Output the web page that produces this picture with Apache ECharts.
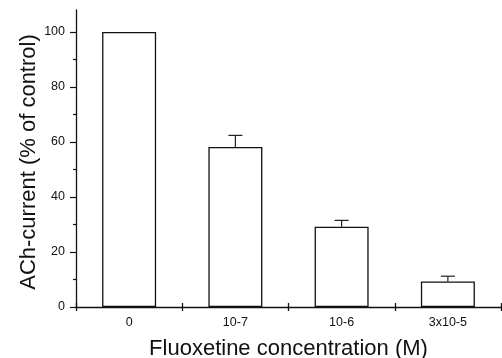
<!DOCTYPE html>
<html>
<head>
<meta charset="utf-8">
<script src="https://cdn.jsdelivr.net/npm/echarts@6/dist/echarts.min.js"></script>
<style>html,body{margin:0;padding:0;background:#fff}#c{width:502px;height:358px}</style>
</head>
<body>
<div id="c"></div>
<script>
const categories = ['0', '10-7', '10-6', '3x10-5'];
const values = [100, 58.2, 29.2, 9.3];
const errors = [0, 4.2, 2.3, 1.9];
const yMajorTicks = [0, 20, 40, 60, 80, 100];
const yMinorTicks = [10, 30, 50, 70, 90];
const yTitle = 'ACh-current (% of control)';
const xTitle = 'Fluoxetine concentration (M)';

const FONT = '"Liberation Sans", Arial, sans-serif';
const chart = echarts.init(document.getElementById('c'), null, {renderer: 'canvas'});
chart.setOption({
  animation: false,
  backgroundColor: '#fff',
  grid: {left: 76, right: 1, top: 10, bottom: 51, containLabel: false, outerBoundsMode: 'none'},
  xAxis: [{
    type: 'category', data: categories, position: 'bottom',
    axisLine: {lineStyle: {color: '#111', width: 1.3}},
    axisTick: {show: true, length: 4, inside: false, lineStyle: {color: '#111', width: 1.3}},
    axisLabel: {color: '#111', fontSize: 12.5, fontFamily: FONT, margin: 9},
    name: xTitle, nameLocation: 'middle', nameGap: 31,
    nameTextStyle: {color: '#111', fontSize: 22, fontFamily: FONT}
  }, {
    type: 'category', data: categories, position: 'bottom',
    axisLine: {show: false},
    axisTick: {show: true, length: 4, inside: true, lineStyle: {color: '#111', width: 1.3}},
    axisLabel: {show: false}
  }],
  yAxis: [{
    type: 'value', min: 0, max: 108, interval: 20,
    axisLine: {show: true, lineStyle: {color: '#111', width: 1.3}},
    axisTick: {show: true, length: 6, customValues: yMajorTicks, lineStyle: {color: '#111', width: 1.2}},
    axisLabel: {color: '#111', fontSize: 12.5, fontFamily: FONT, margin: 11, customValues: yMajorTicks},
    splitLine: {show: false},
    name: yTitle, nameLocation: 'middle', nameGap: 36, nameRotate: 90, nameMoveOverlap: false,
    nameTextStyle: {color: '#111', fontSize: 22, fontFamily: FONT, padding: [0, 7, 0, 0]}
  }, {
    type: 'value', min: 0, max: 108, interval: 10, position: 'left',
    axisLine: {show: false},
    axisTick: {show: true, length: 3, customValues: yMinorTicks, lineStyle: {color: '#111', width: 1.2}},
    axisLabel: {show: false},
    splitLine: {show: false}
  }],
  series: [{
    type: 'bar', data: values, barWidth: 54, xAxisIndex: 0, yAxisIndex: 0,
    itemStyle: {color: '#fff', borderColor: '#111', borderWidth: 1.3}
  }, {
    type: 'custom', xAxisIndex: 0, yAxisIndex: 0,
    data: values.map((v, i) => [i, v, v + errors[i]]),
    renderItem: function (params, api) {
      const i = api.value(0);
      if (api.value(2) <= api.value(1)) return null;
      const p0 = api.coord([i, api.value(1)]);
      const p1 = api.coord([i, api.value(2)]);
      const half = 7;
      const style = {stroke: '#222', lineWidth: 1.2};
      return {type: 'group', children: [
        {type: 'line', shape: {x1: p0[0], y1: p0[1], x2: p1[0], y2: p1[1]}, style: style},
        {type: 'line', shape: {x1: p1[0] - half, y1: p1[1], x2: p1[0] + half, y2: p1[1]}, style: style}
      ]};
    }
  }]
});
</script>
</body>
</html>
